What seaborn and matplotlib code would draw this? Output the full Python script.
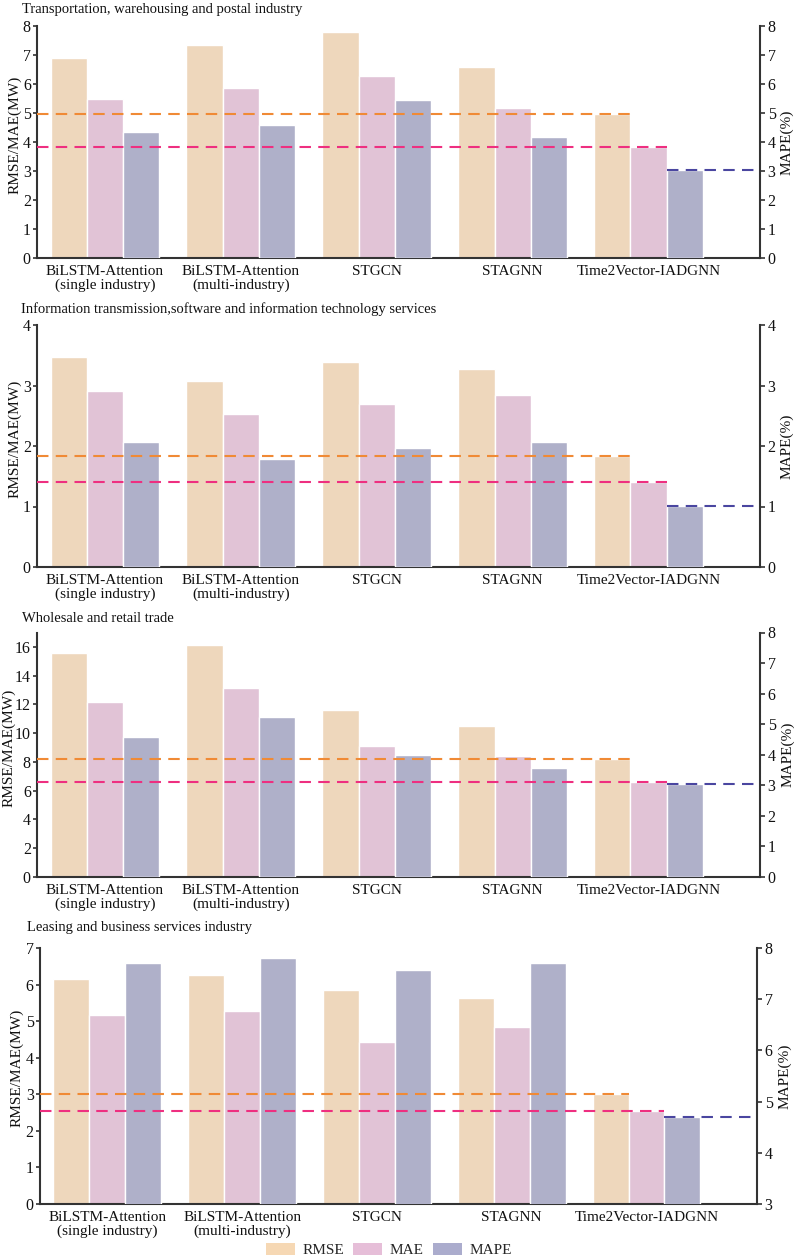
import numpy as np
import pandas as pd
import matplotlib
matplotlib.use("Agg")
import matplotlib.pyplot as plt
from matplotlib.patches import Patch
import seaborn as sns

# ---------------- data ----------------
models = ["BiLSTM-Attention\n(single industry)", "BiLSTM-Attention\n(multi-industry)",
          "STGCN", "STAGNN", "Time2Vector-IADGNN"]
metrics = ["RMSE", "MAE", "MAPE"]
titles = ["Transportation, warehousing and postal industry",
          "Information transmission,software and information technology services",
          "Wholesale and retail trade",
          "Leasing and business services industry"]

rmse_transport = [6.88, 7.36, 7.78, 6.58, 4.97]
mae_transport = [5.50, 5.86, 6.28, 5.18, 3.82]
mape_transport = [4.33, 4.58, 5.46, 4.18, 3.03]

rmse_info = [3.47, 3.08, 3.39, 3.27, 1.83]
mae_info = [2.91, 2.53, 2.69, 2.84, 1.41]
mape_info = [2.07, 1.79, 1.96, 2.06, 1.01]

rmse_trade = [15.54, 16.16, 11.58, 10.50, 8.22]
mae_trade = [12.14, 13.11, 9.11, 8.42, 6.58]
mape_trade = [4.59, 5.24, 3.98, 3.56, 3.04]

rmse_leasing = [6.15, 6.25, 5.86, 5.62, 3.02]
mae_leasing = [5.16, 5.29, 4.42, 4.83, 2.53]
mape_leasing = [7.71, 7.81, 7.58, 7.71, 4.70]

panels = [
    (rmse_transport, mae_transport, mape_transport),
    (rmse_info, mae_info, mape_info),
    (rmse_trade, mae_trade, mape_trade),
    (rmse_leasing, mae_leasing, mape_leasing),
]
left_lims = [(0, 8), (0, 4), (0, 17), (0, 7)]
left_ticks = [np.arange(0, 9, 1), np.arange(0, 5, 1), np.arange(0, 17, 2), np.arange(0, 8, 1)]
right_lims = [(0, 8), (0, 4), (0, 8), (3, 8)]
right_ticks = [np.arange(0, 9, 1), np.arange(0, 5, 1), np.arange(0, 9, 1), np.arange(3, 9, 1)]

# ---------------- style ----------------
bar_colors = {"RMSE": "#F6D8B4", "MAE": "#E6BED8", "MAPE": "#ABACCD"}
line_colors = {"RMSE": "#F08A35", "MAE": "#EE2F80", "MAPE": "#4A46A0"}
sns.set_style("ticks")
plt.rcParams["font.family"] = ["Liberation Serif", "DejaVu Serif"]
plt.rcParams["font.size"] = 11
spine_c = "#333333"

fig = plt.figure(figsize=(8, 12.58), dpi=100)
H = 1258.0
W = 800.0
# (left px, right px, top px, bottom px)
boxes = [(37, 760, 26, 258), (37, 760, 325, 567), (37, 760, 632.5, 877), (40, 757, 948, 1204)]
title_pos = [(22, 9), (21, 309), (22, 618), (27, 928)]
ylab_left_x = [22, 22, 16, 24]
ylab_right_x = [780, 780, 781, 778]

for i, (vals, box) in enumerate(zip(panels, boxes)):
    rmse, mae, mape = vals
    l, r, t, b = box
    ax = fig.add_axes([l / W, 1 - b / H, (r - l) / W, (b - t) / H])
    df = pd.DataFrame({
        "model": models * 3,
        "metric": ["RMSE"] * 5 + ["MAE"] * 5 + ["MAPE"] * 5,
        "value": list(rmse) + list(mae) + list(mape),
    })

    # left axis: RMSE & MAE (MAPE slot kept for dodging, then removed)
    sns.barplot(data=df, x="model", y="value", hue="metric", hue_order=metrics,
                order=models, palette=bar_colors, width=0.8, edgecolor="white",
                linewidth=1.0, errorbar=None, legend=False, ax=ax)
    ax2 = ax.twinx()
    # right axis: MAPE (RMSE/MAE slots kept for dodging, then removed)
    sns.barplot(data=df, x="model", y="value", hue="metric", hue_order=metrics,
                order=models, palette=bar_colors, width=0.8, edgecolor="white",
                linewidth=1.0, errorbar=None, legend=False, ax=ax2)
    for p in ax.containers[2]:
        p.remove()
    for c in ax2.containers[:2]:
        for p in c:
            p.remove()

    xlo, xhi = -0.5, 4.82
    ax.set_xlim(xlo, xhi)
    ax2.set_xlim(xlo, xhi)
    ax.set_ylim(*left_lims[i])
    ax.set_yticks(left_ticks[i])
    ax2.set_ylim(*right_lims[i])
    ax2.set_yticks(right_ticks[i])

    # bar edges of the last model for reference lines
    rmse_bar = ax.containers[0][4]
    mae_bar = ax.containers[1][4]
    mape_bar = ax2.containers[2][4]
    x_rmse_end = rmse_bar.get_x() + rmse_bar.get_width()
    x_mae_end = mae_bar.get_x() + mae_bar.get_width()
    x_mape_start = mape_bar.get_x()

    dash = (0, (5.5, 3.5))
    ax2.plot([xlo, x_rmse_end], [rmse[4], rmse[4]], transform=ax.transData,
             color=line_colors["RMSE"], lw=1.5, ls=dash, clip_on=False, zorder=5)
    ax2.plot([xlo, x_mae_end], [mae[4], mae[4]], transform=ax.transData,
             color=line_colors["MAE"], lw=1.5, ls=dash, clip_on=False, zorder=5)
    ax2.plot([x_mape_start, xhi], [mape[4], mape[4]],
             color=line_colors["MAPE"], lw=1.5, ls=dash, clip_on=False, zorder=5)

    # axes cosmetics
    ax.set_xlabel("")
    ax2.set_xlabel("")
    ax.set_ylabel("RMSE/MAE(MW)", fontsize=11, color="#111111")
    ax2.set_ylabel("MAPE(%)", fontsize=11, color="#111111")
    ax.yaxis.set_label_coords((ylab_left_x[i] - l) / (r - l), 0.53)
    ax2.yaxis.set_label_coords((ylab_right_x[i] - l) / (r - l), 0.5)
    for a in (ax, ax2):
        a.spines["top"].set_visible(False)
        for s in a.spines.values():
            s.set_color(spine_c)
            s.set_linewidth(1.5)
    ax.spines["right"].set_visible(False)
    ax2.spines["left"].set_visible(False)
    ax2.spines["bottom"].set_visible(False)
    ax.tick_params(axis="x", length=0, pad=5, labelsize=11, colors="#111111")
    ax.tick_params(axis="y", direction="out", length=3, width=1.2, color=spine_c,
                   labelsize=11.5, labelcolor="#111111", pad=1.5)
    ax2.tick_params(axis="y", direction="out", length=3.5, width=1.2, color=spine_c,
                    labelsize=11.5, labelcolor="#111111", pad=2)
    ax2.tick_params(axis="x", length=0)
    ax.set_xticks(range(len(models)))
    ax.set_xticklabels(models, linespacing=1.05)

    fig.text(title_pos[i][0] / W, 1 - title_pos[i][1] / H, titles[i],
             ha="left", va="center", fontsize=10.5, color="#111111")

handles = [Patch(facecolor=bar_colors[m], edgecolor="none", label=m) for m in metrics]
fig.legend(handles=handles, loc="center", bbox_to_anchor=(389 / W, 1 - 1250 / H),
           ncol=3, frameon=False, fontsize=11, handlelength=1.9, handleheight=0.8,
           handletextpad=0.5, columnspacing=0.6, borderpad=0)

fig.savefig("out.png", dpi=100, facecolor="white")
